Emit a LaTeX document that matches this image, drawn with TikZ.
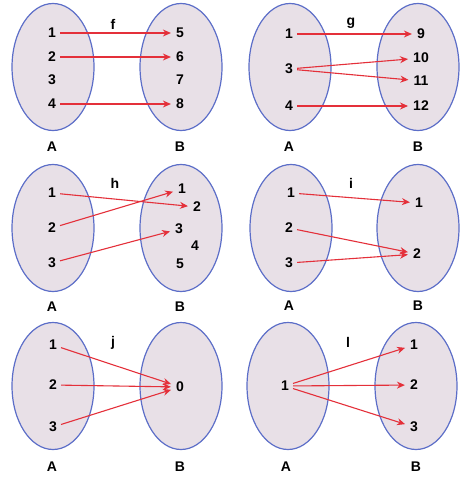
\documentclass[tikz,border=0pt]{standalone}
\usepackage{fontspec}
\setmainfont{Liberation Sans}
\usetikzlibrary{shapes.geometric,arrows.meta}
\definecolor{ovalfill}{RGB}{232,224,231}
\definecolor{ovalline}{RGB}{92,110,200}
\definecolor{arrowred}{RGB}{228,48,58}
\tikzset{
  setoval/.style={
    shape = ellipse,
    draw = ovalline,
    fill = ovalfill,
    line width = 1.2pt,
    inner sep = 0pt,
    minimum width = 82pt,
    minimum height = 127pt
  },
  elem/.style={
    inner sep = 2pt,
    font = \fontsize{14}{16}\selectfont\bfseries
  },
  maparrow/.style={
    draw = arrowred,
    line width = 1.1pt,
    -{Stealth[length=8pt,width=7pt]},
    shorten <= 2pt,
    shorten >= 3pt
  }
}

\begin{document}
\begin{tikzpicture}[x=1pt,y=-1pt]
  \useasboundingbox (0,0) rectangle (473,479);
  % f
  \node[setoval] (fA) at (53,67) {};
  \node[setoval] (fB) at (181,67) {};
  \foreach \a/\b/\y in {1/5/33,2/6/57,3/7/80,4/8/104}{
    \node[elem] (fa\a) at (52,\y) {\a};
    \node[elem] (fb\b) at (180,\y) {\b};
  }
  \node[elem] (fname) at (113,24) {f};
  \node[elem] (fsetA) at (52,147) {A};
  \node[elem] (fsetB) at (180,147) {B};
  \foreach \a/\b in {1/5,2/6,4/8}
    \draw[maparrow] (fa\a) -- (fb\b);
  % g
  \node[setoval] (gA) at (290,67) {};
  \node[setoval] (gB) at (418,67) {};
  \foreach \a/\y in {1/34,3/69,4/106}
    \node[elem] (ga\a) at (289,\y) {\a};
  \foreach \b/\y in {9/34,10/58,11/81,12/106}
    \node[elem] (gb\b) at (421,\y) {\b};
  \node[elem] (gname) at (351,23) {g};
  \node[elem] (gsetA) at (289,147) {A};
  \node[elem] (gsetB) at (418,147) {B};
  \foreach \a/\b in {1/9,3/10,3/11,4/12}
    \draw[maparrow] (ga\a) -- (gb\b);
  % h
  \node[setoval] (hA) at (53,228) {};
  \node[setoval] (hB) at (181,228) {};
  \foreach \a/\y in {1/193,2/228,3/263}
    \node[elem] (ha\a) at (52,\y) {\a};
  \foreach \b/\x/\y in {1/182/189,2/197/207,3/179/229,4/195/246,5/180/264}
    \node[elem] (hb\b) at (\x,\y) {\b};
  \node[elem] (hname) at (115,183) {h};
  \node[elem] (hsetA) at (52,307) {A};
  \node[elem] (hsetB) at (180,307) {B};
  \foreach \a/\b in {1/2,2/1,3/3}
    \draw[maparrow] (ha\a) -- (hb\b);
  % i
  \node[setoval] (iA) at (291,228) {};
  \node[setoval] (iB) at (418,228) {};
  \foreach \a/\x/\y in {1/291/193,2/289/228,3/289/263}
    \node[elem] (ia\a) at (\x,\y) {\a};
  \node[elem] (ib1) at (419,203) {1};
  \node[elem] (ib2) at (417,254) {2};
  \node[elem] (iname) at (351,183) {i};
  \node[elem] (isetA) at (289,306) {A};
  \node[elem] (isetB) at (418,306) {B};
  \foreach \a/\b in {1/1,2/2,3/2}
    \draw[maparrow] (ia\a) -- (ib\b);
  % j
  \node[setoval] (jA) at (53,386) {};
  \node[setoval] (jB) at (181,386) {};
  \foreach \a/\y in {1/345,2/385,3/427}
    \node[elem] (ja\a) at (53,\y) {\a};
  \node[elem] (jb0) at (180,387) {0};
  \node[elem] (jname) at (113,343) {j};
  \node[elem] (jsetA) at (52,467) {A};
  \node[elem] (jsetB) at (180,467) {B};
  \foreach \a in {1,2,3}
    \draw[maparrow] (ja\a) -- (jb0);
  % l
  \node[setoval] (lA) at (288,386) {};
  \node[setoval] (lB) at (416,386) {};
  \node[elem] (la1) at (285,386) {1};
  \foreach \b/\y in {1/345,2/385,3/427}
    \node[elem] (lb\b) at (414,\y) {\b};
  \node[elem] (lname) at (348,342) {l};
  \node[elem] (lsetA) at (286,467) {A};
  \node[elem] (lsetB) at (416,467) {B};
  \foreach \b in {1,2,3}
    \draw[maparrow] (la1) -- (lb\b);
\end{tikzpicture}
\end{document}
